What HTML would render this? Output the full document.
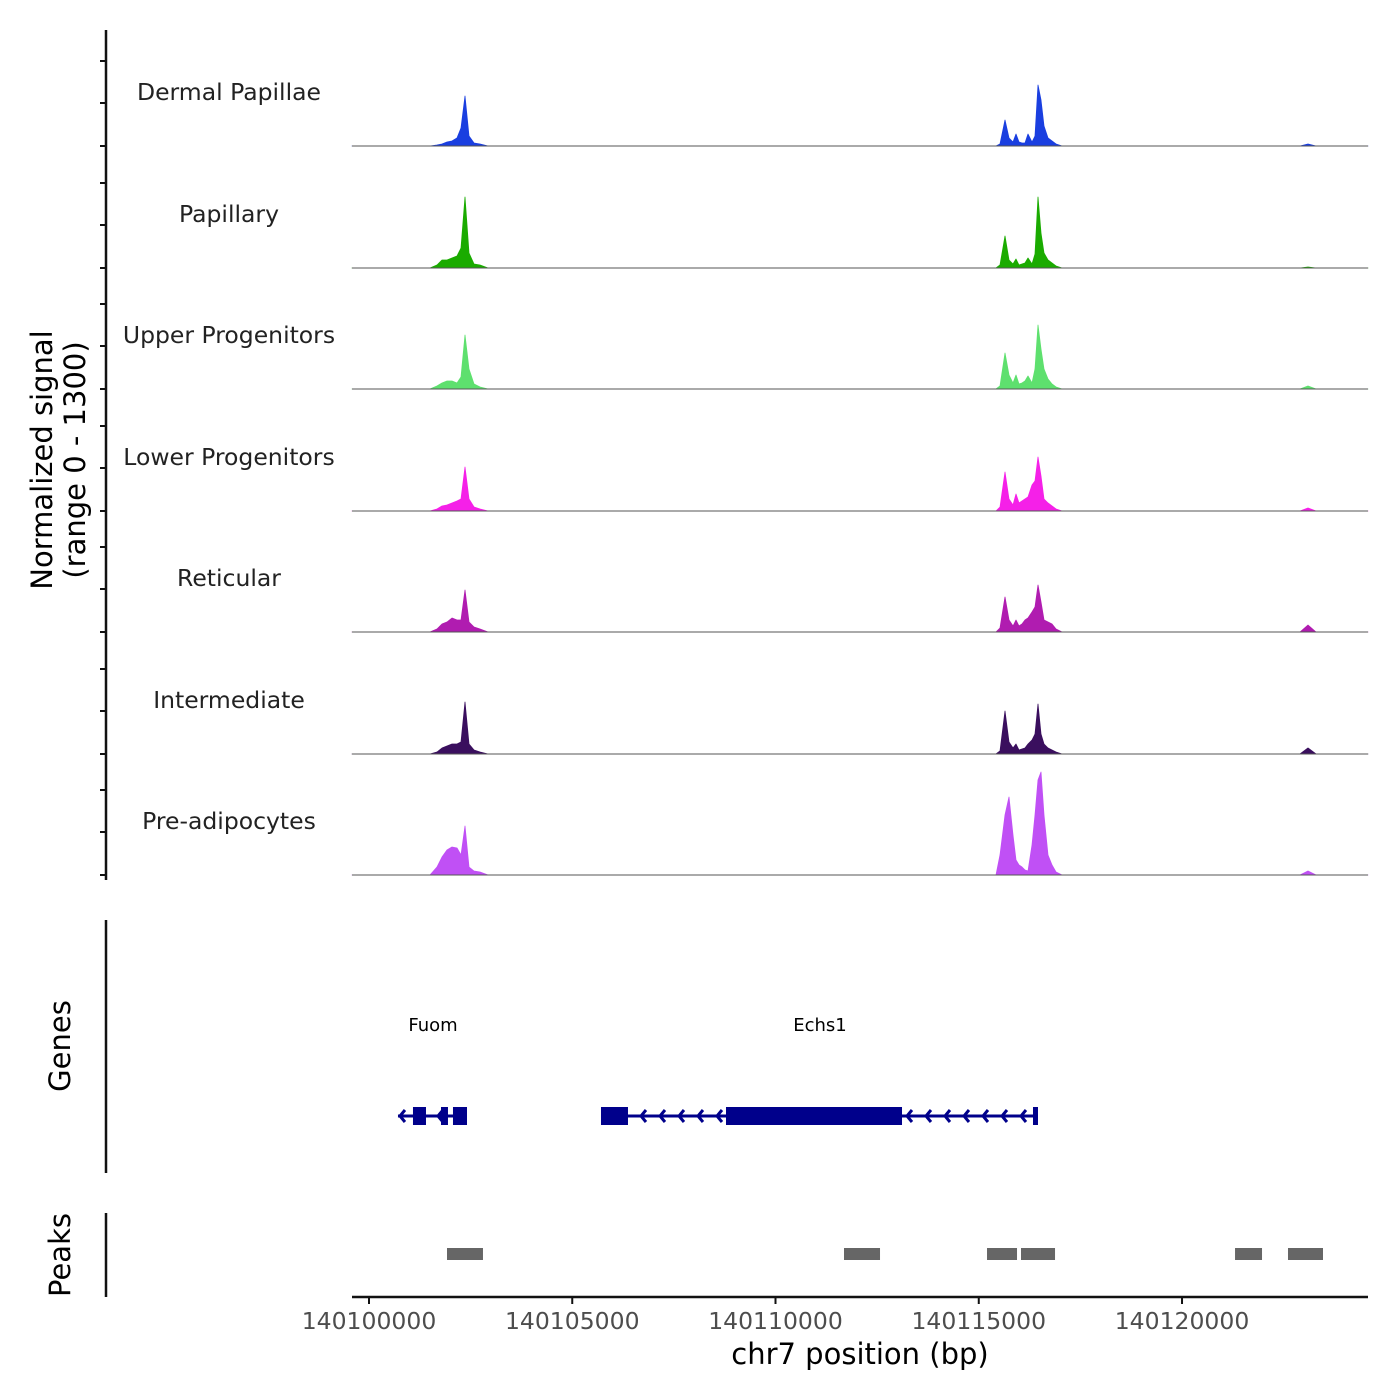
<!DOCTYPE html>
<html><head><meta charset="utf-8"><style>
html,body{margin:0;padding:0;background:#fff;}
svg{display:block;font-family:"DejaVu Sans","Liberation Sans",sans-serif;}
</style></head><body>
<svg id="chart" width="1400" height="1400" viewBox="0 0 1400 1400" xmlns="http://www.w3.org/2000/svg"></svg>
<script>
const tracks = ["Dermal Papillae","Papillary","Upper Progenitors","Lower Progenitors","Reticular","Intermediate","Pre-adipocytes"];
const trackColors = ["#1a3fe0","#1aab00","#5ee06e","#f520e8","#b01cb0","#3a0f5e","#c050f5"];
const positions = [140101501,140101673,140101796,140101919,140102042,140102165,140102263,140102362,140102460,140102583,140102731,140102927,
140115424,140115523,140115646,140115744,140115842,140115916,140115990,140116064,140116138,140116211,140116310,140116384,140116457,140116531,140116605,140116703,140116802,140116900,140117048,
140122903,140123099,140123296];
const sigDermal = [0,10,20,40,50,80,180,500,100,30,20,0, 0,20,260,80,40,120,40,30,30,120,40,100,610,460,200,80,50,20,0, 0,20,0];
const sigPapillary = [0,30,80,80,100,120,200,710,150,40,30,0, 0,30,320,80,40,90,30,40,50,100,40,140,710,350,150,80,50,20,0, 0,10,0];
const sigUpper = [0,30,60,80,80,60,120,540,200,50,20,0, 0,30,360,140,60,140,50,60,80,130,60,200,640,400,200,100,50,20,0, 0,30,0];
const sigLower = [0,20,50,60,80,100,120,440,120,40,20,0, 0,40,390,120,60,170,80,100,120,140,260,300,540,350,120,80,50,20,0, 0,30,0];
const sigReticular = [0,30,80,100,140,120,120,420,100,50,30,0, 0,40,350,120,60,120,60,80,120,140,200,250,470,300,120,100,80,30,0, 0,70,0];
const sigIntermediate = [0,20,60,80,100,100,120,520,100,40,20,0, 0,30,430,120,60,100,40,50,60,100,140,200,500,200,100,60,40,20,0, 0,60,0];
const sigPreAdip = [0,80,180,250,280,270,200,490,80,40,30,0, 0,200,600,780,400,150,100,80,50,40,300,600,950,1030,600,200,100,30,0, 0,40,0];
const signals = [sigDermal,sigPapillary,sigUpper,sigLower,sigReticular,sigIntermediate,sigPreAdip];
const xTicks = [140100000,140105000,140110000,140115000,140120000];
const geneNames = ["Fuom","Echs1"];
const geneStarts = [140100713,140105707];
const geneEnds = [140102411,140116457];
const exonStarts = [140101082,140101771,140102066,140105707,140108782,140116334];
const exonEnds = [140101402,140101943,140102411,140106371,140113112,140116457];
const peakStarts = [140101919,140111685,140115203,140116039,140121304,140122607];
const peakEnds = [140102804,140112571,140115941,140116876,140121968,140123468];

const NS="http://www.w3.org/2000/svg";
const svg=document.getElementById('chart');
function mk(tag,attrs,parent){const e=document.createElementNS(NS,tag);for(const k in attrs)e.setAttribute(k,attrs[k]);(parent||svg).appendChild(e);return e;}
const X0=352,X1=1368,BP0=140099582,BP1=140124575;
function xs(bp){return X0+(bp-BP0)/(BP1-BP0)*(X1-X0);}
const baselines=[146,268,389,511,632,754,875];
const K=0.1;
function ys(v,i){return baselines[i]-v*K;}

let ax=mk('line',{x1:106,y1:30,x2:106,y2:880,stroke:'#111','stroke-width':2.5});

baselines.forEach((b)=>{[0,43,85].forEach(o=>{let t=mk('line',{x1:100,y1:b-o,x2:106,y2:b-o,stroke:'#111','stroke-width':2});
});});
let yt=mk('text',{transform:'translate(52,460) rotate(-90)','text-anchor':'middle','font-size':29,fill:'#000'});

yt.textContent='Normalized signal';
let yt2=mk('text',{transform:'translate(85,460) rotate(-90)','text-anchor':'middle','font-size':29,fill:'#000'});

yt2.textContent='(range 0 - 1300)';

tracks.forEach((name,i)=>{
  let lab=mk('text',{x:229,y:baselines[i]-46,'text-anchor':'middle','font-size':23.5,fill:'#222'});
  
  lab.textContent=name;
  let d='M'+X0+','+baselines[i];
  positions.forEach((p,j)=>{
    if(j>0 && (positions[j]-positions[j-1])>2000){d+=' L'+xs(positions[j-1]+60)+','+baselines[i]+' L'+xs(p-60)+','+baselines[i];}
    d+=' L'+xs(p).toFixed(1)+','+ys(signals[i][j],i).toFixed(1);
  });
  d+=' L'+X1+','+baselines[i]+' Z';
  let a=mk('path',{d:d,fill:trackColors[i],stroke:trackColors[i],'stroke-width':0.8,'stroke-linejoin':'round'});
  
  let bl=mk('line',{x1:X0,y1:baselines[i],x2:X1,y2:baselines[i],stroke:'#555','stroke-width':1});
  
});

let ga=mk('line',{x1:106,y1:920,x2:106,y2:1173,stroke:'#111','stroke-width':2.5});

let gt=mk('text',{transform:'translate(70,1046) rotate(-90)','text-anchor':'middle','font-size':29,fill:'#000'});
gt.textContent='Genes';
const GY=1116;
const labelX=[433,820];
geneNames.forEach((g,i)=>{
  let l=mk('line',{x1:xs(geneStarts[i]),y1:GY,x2:xs(geneEnds[i]),y2:GY,stroke:'#00008b','stroke-width':3});
  
  let t=mk('text',{x:labelX[i],y:1031,'text-anchor':'middle','font-size':18,fill:'#000'});
  t.textContent=g;
  const s=xs(geneStarts[i]),e=xs(geneEnds[i]);
  for(let x=s+2;x<e-8;x+=19){let c=mk('path',{d:`M${x+5},${GY-6} L${x},${GY} L${x+5},${GY+6}`,fill:'none',stroke:'#00008b','stroke-width':3});
  }
});
exonStarts.forEach((s,i)=>{
  let r=mk('rect',{x:xs(s),y:GY-9,width:Math.max(4,xs(exonEnds[i])-xs(s)),height:18,fill:'#00008b'});
  
});

let pa=mk('line',{x1:106,y1:1213,x2:106,y2:1297,stroke:'#111','stroke-width':2.5});

let pt=mk('text',{transform:'translate(70,1255) rotate(-90)','text-anchor':'middle','font-size':29,fill:'#000'});
pt.textContent='Peaks';
peakStarts.forEach((s,i)=>{
  let r=mk('rect',{x:xs(s),y:1248,width:xs(peakEnds[i])-xs(s),height:12,fill:'#666'});
  
});

let xa=mk('line',{x1:X0,y1:1297,x2:X1,y2:1297,stroke:'#111','stroke-width':2.5});

xTicks.forEach(v=>{
  let t=mk('line',{x1:xs(v),y1:1297,x2:xs(v),y2:1304,stroke:'#111','stroke-width':2});
  
  let l=mk('text',{x:xs(v),y:1329,'text-anchor':'middle','font-size':23.5,fill:'#4d4d4d'});
  l.textContent=v;
});
let xt=mk('text',{x:860,y:1364,'text-anchor':'middle','font-size':29,fill:'#000'});
xt.textContent='chr7 position (bp)';
</script>
</body></html>
